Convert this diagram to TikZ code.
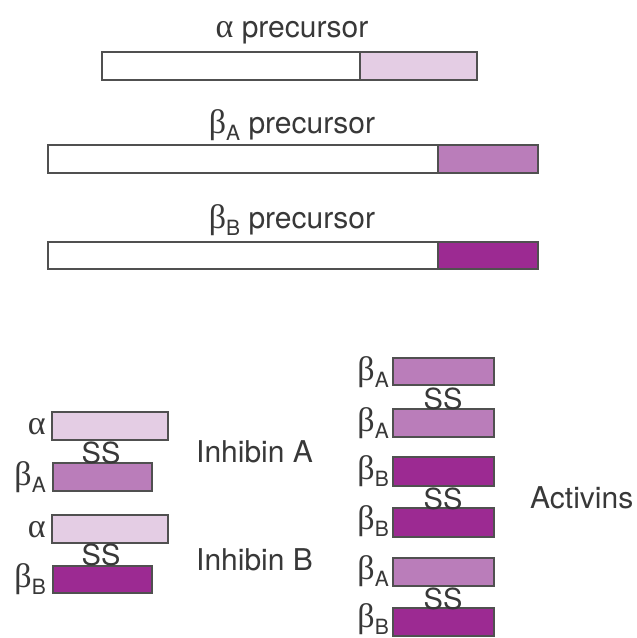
\documentclass[tikz,border=0pt]{standalone}
\usepackage{fontspec}
\setmainfont{TeX Gyre Heros}
\newfontfamily\greekfont{Liberation Serif}
\definecolor{edge}{HTML}{505050}
\definecolor{txt}{HTML}{383838}
\definecolor{lightp}{HTML}{E4CDE4}
\definecolor{midp}{HTML}{BA7DBA}
\definecolor{darkp}{HTML}{9C2A92}
\newcommand{\gk}[1]{{\greekfont\fontsize{34}{34}\selectfont #1}}
\newcommand{\bsub}[1]{\gk{β}\raisebox{-7pt}{\fontsize{21}{21}\selectfont #1}}
\begin{document}
\begin{tikzpicture}[x=1pt,y=-1pt,
  box/.style={draw=edge,line width=2pt},
  lbl/.style={text=txt,inner sep=0pt,font=\fontsize{30}{30}\selectfont},
  sslbl/.style={text=txt,inner sep=0pt,font=\fontsize{29}{29}\selectfont,anchor=base},
  glbl/.style={text=txt,inner sep=0pt,anchor=base east}]
\useasboundingbox[fill=white] (0,0) rectangle (637,638);
% precursors
\node[lbl,anchor=base] (pa) at (292,37) {\gk{α} precursor};
\draw[box,fill=white] (102,52) rectangle (360,80);
\draw[box,fill=lightp] (360,52) rectangle (477,80);
\node[lbl,anchor=base] (pba) at (292,133) {\bsub{A} precursor};
\draw[box,fill=white] (48,145) rectangle (438,173);
\draw[box,fill=midp] (438,145) rectangle (538,173);
\node[lbl,anchor=base] (pbb) at (292,228) {\bsub{B} precursor};
\draw[box,fill=white] (48,242) rectangle (438,269);
\draw[box,fill=darkp] (438,242) rectangle (538,269);
% inhibin A
\draw[box,fill=lightp] (52,412) rectangle (168,440);
\node[glbl] (ia1) at (46,434) {\gk{α}};
\draw[box,fill=midp] (53,463) rectangle (152,491);
\node[glbl] (ia2) at (46,485) {\bsub{A}};
\node[sslbl] (ssa) at (101,463) {SS};
\node[lbl,anchor=base west] (inha) at (196,462) {Inhibin A};
% inhibin B
\draw[box,fill=lightp] (52,515) rectangle (168,543);
\node[glbl] (ib1) at (46,537) {\gk{α}};
\draw[box,fill=darkp] (53,566) rectangle (152,593);
\node[glbl] (ib2) at (46,587) {\bsub{B}};
\node[sslbl] (ssb) at (101,565) {SS};
\node[lbl,anchor=base west] (inhb) at (196,570) {Inhibin B};
% activins
\draw[box,fill=midp] (393,358) rectangle (494,385);
\node[glbl] (a1) at (389,380) {\bsub{A}};
\draw[box,fill=midp] (393,409) rectangle (494,437);
\node[glbl] (a2) at (389,431) {\bsub{A}};
\node[sslbl] (ss1) at (443,409) {SS};
\draw[box,fill=darkp] (393,457) rectangle (494,486);
\node[glbl] (a3) at (389,479) {\bsub{B}};
\draw[box,fill=darkp] (393,508) rectangle (494,537);
\node[glbl] (a4) at (389,529) {\bsub{B}};
\node[sslbl] (ss2) at (443,509) {SS};
\draw[box,fill=midp] (393,558) rectangle (494,586);
\node[glbl] (a5) at (389,579) {\bsub{A}};
\draw[box,fill=darkp] (393,608) rectangle (494,636);
\node[glbl] (a6) at (389,627) {\bsub{B}};
\node[sslbl] (ss3) at (443,609) {SS};
\node[lbl,anchor=base west] (act) at (530,508) {Activins};
\end{tikzpicture}
\end{document}
